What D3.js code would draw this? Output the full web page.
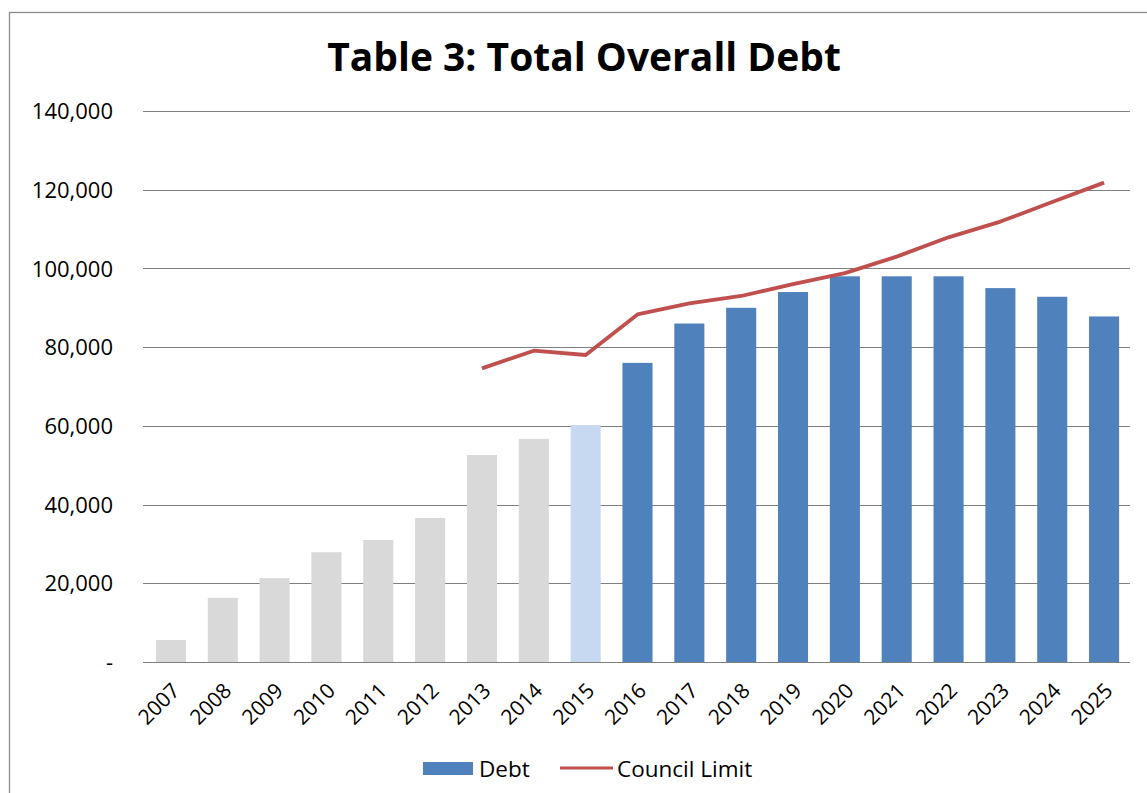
<!DOCTYPE html>
<html>
<head>
<meta charset="utf-8">
<script src="https://cdn.jsdelivr.net/npm/d3@7/dist/d3.min.js"></script>
<style>
  html, body { margin: 0; padding: 0; background: #fff; }
  svg { display: block; }
</style>
</head>
<body>
<svg id="chart" width="1147" height="793"></svg>
<script>
// Financial years shown on the category axis
const years = ["2007","2008","2009","2010","2011","2012","2013","2014","2015",
               "2016","2017","2018","2019","2020","2021","2022","2023","2024","2025"];

// Total overall debt per year
const debt = [5600, 16300, 21300, 27900, 31000, 36600, 52600, 56700, 60200,
              76000, 86000, 90000, 94000, 98000, 98000, 98000, 95000, 92800, 87800];

// Reporting phase of each year: past actuals, current year, forecast
const phase = ["actual","actual","actual","actual","actual","actual","actual","actual","current",
               "forecast","forecast","forecast","forecast","forecast","forecast","forecast","forecast","forecast","forecast"];

// Council debt limit (set from 2013 onward)
const councilLimit = [null, null, null, null, null, null, 74600, 79100, 78000,
                      88300, 91100, 93000, 96000, 98800, 103000, 107900, 111900, 116900, 121800];

// Value-axis ticks
const yTicks = [0, 20000, 40000, 60000, 80000, 100000, 120000, 140000];

const FONT = "'Open Sans', 'Noto Sans', sans-serif";
const svg = d3.select("#chart");

// Chart frame
svg.append("rect")
  .attr("x", 9.5).attr("y", 12.5)
  .attr("width", 1160).attr("height", 800)
  .attr("fill", "#fff")
  .attr("stroke", "#8c8c8c").attr("stroke-width", 1.3);

// Title
svg.append("text")
  .attr("x", 584).attr("y", 71)
  .attr("text-anchor", "middle")
  .attr("font-family", FONT)
  .attr("font-weight", 700)
  .attr("font-size", 39)
  .attr("fill", "#000")
  .text("Table 3: Total Overall Debt");

const plot = { left: 145, right: 1130, top: 111, bottom: 662 };

const x = d3.scaleBand()
  .domain(years)
  .range([plot.left, plot.right])
  .paddingInner(0.42)
  .paddingOuter(0.21);

const y = d3.scaleLinear()
  .domain([0, 140000])
  .range([plot.bottom, plot.top]);

const color = d3.scaleOrdinal()
  .domain(["actual", "current", "forecast"])
  .range(["#d9d9d9", "#c6d9f1", "#4f81bd"]);

// Horizontal gridlines
svg.append("g")
  .selectAll("line")
  .data(yTicks)
  .join("line")
  .attr("x1", plot.left - 2).attr("x2", plot.right)
  .attr("y1", d => Math.round(y(d)) + 0.5)
  .attr("y2", d => Math.round(y(d)) + 0.5)
  .attr("stroke", "#7f7f7f")
  .attr("stroke-width", 1.2);

// Value axis labels
const yAxis = d3.axisLeft(y)
  .tickValues(yTicks)
  .tickSize(0)
  .tickPadding(0)
  .tickFormat(d => d === 0 ? "-" : d3.format(",")(d));

svg.append("g")
  .attr("transform", `translate(${plot.left - 32},0)`)
  .call(yAxis)
  .call(g => g.select(".domain").remove())
  .call(g => g.selectAll("text")
    .attr("font-family", FONT)
    .attr("font-size", 22)
    .attr("fill", "#000")
    .attr("dy", "0.35em"));

// Debt bars
svg.append("g")
  .selectAll("rect")
  .data(years.map((yr, i) => ({ yr, v: debt[i], p: phase[i] })))
  .join("rect")
  .attr("x", d => x(d.yr))
  .attr("width", x.bandwidth())
  .attr("y", d => y(d.v))
  .attr("height", d => y(0) - y(d.v))
  .attr("fill", d => color(d.p));

// Baseline
svg.append("line")
  .attr("x1", plot.left - 2).attr("x2", plot.right)
  .attr("y1", Math.round(y(0)) + 0.5).attr("y2", Math.round(y(0)) + 0.5)
  .attr("stroke", "#7f7f7f").attr("stroke-width", 1.2);

// Council limit line
const limitPoints = years.map((yr, i) => ({ yr, v: councilLimit[i] }));
const line = d3.line()
  .defined(d => d.v !== null)
  .x(d => x(d.yr) + x.bandwidth() / 2)
  .y(d => y(d.v));

svg.append("path")
  .datum(limitPoints)
  .attr("d", line)
  .attr("fill", "none")
  .attr("stroke", "#c0504d")
  .attr("stroke-width", 3.8)
  .attr("stroke-linejoin", "round");

// Category axis labels, rotated
const xAxis = d3.axisBottom(x).tickSize(0).tickPadding(0);
svg.append("g")
  .attr("transform", `translate(0,${plot.bottom})`)
  .call(xAxis)
  .call(g => g.select(".domain").remove())
  .call(g => g.selectAll("text")
    .attr("font-family", FONT)
    .attr("font-size", 21)
    .attr("fill", "#000")
    .attr("text-anchor", "end")
    .attr("dy", 0)
    .attr("y", 0)
    .attr("transform", "translate(10,30) rotate(-45)"));

// Legend
const legend = svg.append("g").attr("font-family", FONT).attr("font-size", 22.5).attr("fill", "#000");
legend.append("rect")
  .attr("x", 423).attr("y", 762)
  .attr("width", 50).attr("height", 13)
  .attr("fill", color("forecast"));
legend.append("text")
  .attr("x", 479).attr("y", 777)
  .text("Debt");
legend.append("line")
  .attr("x1", 560).attr("x2", 613)
  .attr("y1", 768).attr("y2", 768)
  .attr("stroke", "#c0504d").attr("stroke-width", 3);
legend.append("text")
  .attr("x", 617).attr("y", 777)
  .text("Council Limit");
</script>
</body>
</html>
